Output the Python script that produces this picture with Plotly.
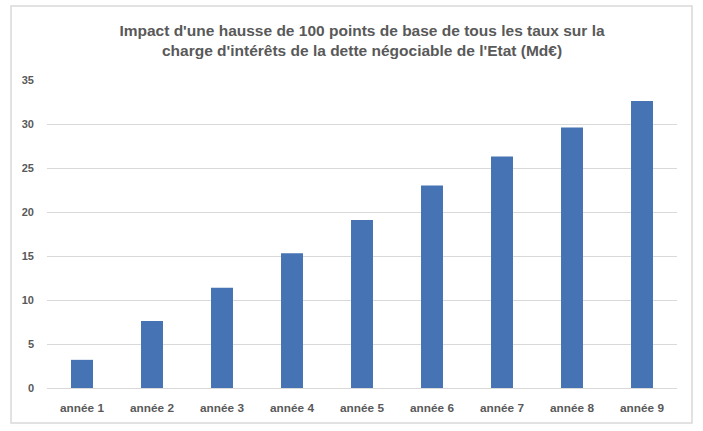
import plotly.graph_objects as go

categories = ["année 1", "année 2", "année 3", "année 4", "année 5",
              "année 6", "année 7", "année 8", "année 9"]
values = [3.2, 7.6, 11.4, 15.3, 19.1, 23.0, 26.3, 29.6, 32.6]
y_ticks = [0, 5, 10, 15, 20, 25, 30, 35]

title_text = ("Impact d'une hausse de 100 points de base de tous les taux sur la<br>"
              "charge d'intérêts de la dette négociable de l'Etat (Md€)")

fig = go.Figure()
fig.add_trace(go.Bar(
    x=categories, y=values,
    marker=dict(color="#4673B3", line=dict(width=0)),
    hoverinfo="x+y",
))

fig.update_layout(
    width=703, height=431,
    margin=dict(l=47, r=26, t=80, b=43),
    paper_bgcolor="white", plot_bgcolor="white",
    bargap=0.686,
    showlegend=False,
    font=dict(family="Liberation Sans", color="#595959"),
    title=dict(
        text=title_text,
        x=0.5, xref="paper", xanchor="center",
        y=0.916, yref="container", yanchor="top",
        font=dict(family="Liberation Sans", size=15.5, color="#595959", weight="bold"),
    ),
    xaxis=dict(
        showgrid=False, showline=True, linecolor="#d9d9d9", linewidth=1,
        ticks="", tickfont=dict(size=11.8, color="#595959", weight="bold"),
        ticklabelstandoff=9,
    ),
    yaxis=dict(
        range=[0, 35], tickvals=y_ticks, showgrid=True,
        gridcolor="#d9d9d9", gridwidth=1, zeroline=False, showline=False,
        ticks="", tickfont=dict(size=11, color="#595959", weight="bold"),
        ticklabelstandoff=12,
    ),
    shapes=[dict(
        type="rect", xref="paper", yref="paper",
        x0=-0.0571, x1=1.0238, y0=-0.1136, y1=1.2403,
        line=dict(color="#d9d9d9", width=1.5), fillcolor="rgba(0,0,0,0)",
        layer="below",
    )],
)

fig.write_html("out.html", config={"displayModeBar": False},
               post_script="document.body.style.margin='0';")
